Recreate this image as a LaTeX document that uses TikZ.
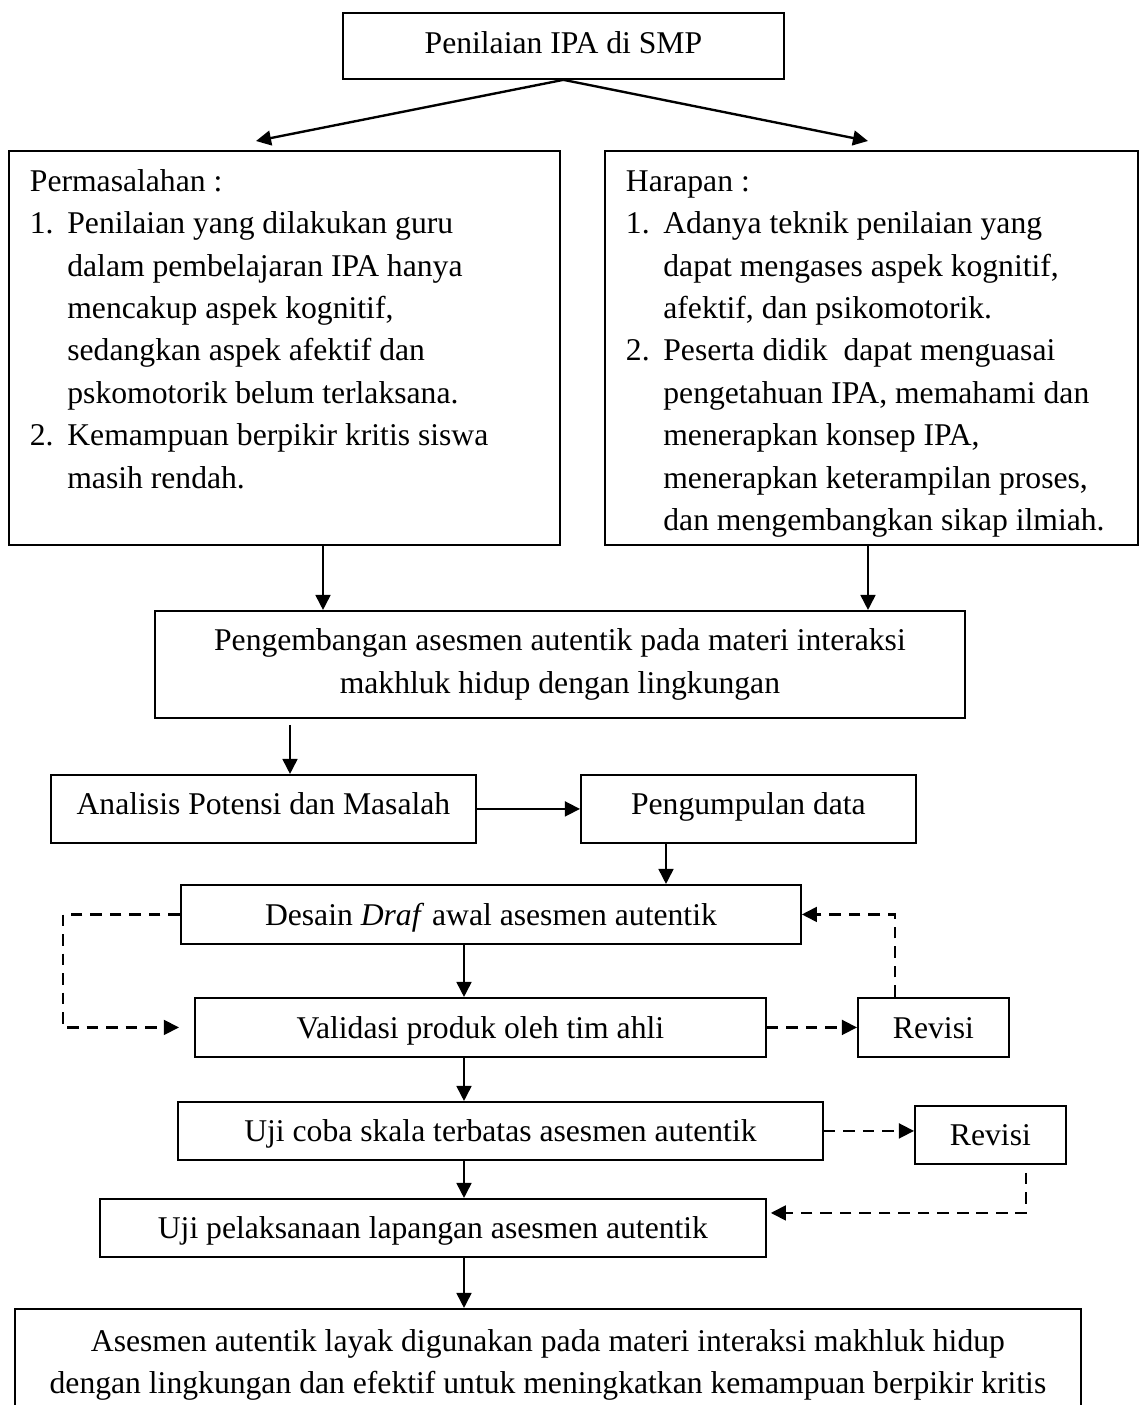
\documentclass[tikz,border=0pt]{standalone}
\usepackage{fontspec}
\setmainfont{Liberation Serif}
\usetikzlibrary{arrows.meta,calc}
\newdimen\pxu
\pxu=0.3792pt

\begin{document}
\begin{tikzpicture}[x=\pxu, y=-\pxu,
  font=\fontsize{12}{16.1}\selectfont,
  kotak/.style={draw, line width=0.7pt, inner sep=0pt, anchor=north west},
  baris/.style={kotak, text height=8.2pt, text depth=#1},
  baris/.default=0pt,
  kotakbesar/.style={kotak, inner ysep=10.3\pxu},
  panah/.style={-{Triangle[length=5.7pt,width=5.6pt]}, line width=0.9pt},
  panahputus/.style={panah, dash pattern=on 4.4pt off 3pt}]

\useasboundingbox (0,0) rectangle (1139,1405);
\clip (0,0) rectangle (1139,1405);

\node[baris=2.2pt, minimum width=441\pxu, minimum height=66\pxu] (ipa) at (342,12) {Penilaian IPA di SMP};

\node[kotakbesar, minimum width=551\pxu, minimum height=394\pxu] (masalah) at (8,150) {\parbox[c][373\pxu][t]{551\pxu}{\leftskip=21\pxu
\strut Permasalahan :\par
\hangindent=14.2pt\hangafter=1 \makebox[14.2pt][l]{1.}Penilaian yang dilakukan guru\\
dalam pembelajaran IPA hanya\\
mencakup aspek kognitif,\\
sedangkan aspek afektif dan\\
pskomotorik belum terlaksana.\par
\hangindent=14.2pt\hangafter=1 \makebox[14.2pt][l]{2.}Kemampuan berpikir kritis siswa\\
masih rendah.}};

\node[kotakbesar, minimum width=533\pxu, minimum height=394\pxu] (harapan) at (604,150) {\parbox[c][373\pxu][t]{533\pxu}{\leftskip=21\pxu
\strut Harapan :\par
\hangindent=14.2pt\hangafter=1 \makebox[14.2pt][l]{1.}Adanya teknik penilaian yang\\
dapat mengases aspek kognitif,\\
afektif, dan psikomotorik.\par
\hangindent=14.2pt\hangafter=1 \makebox[14.2pt][l]{2.}Peserta didik\ \ dapat menguasai\\
pengetahuan IPA, memahami dan\\
menerapkan konsep IPA,\\
menerapkan keterampilan proses,\\
dan mengembangkan sikap ilmiah.}};

\node[kotak, align=center, minimum width=810\pxu, minimum height=107\pxu] (kembang) at (154,610) {Pengembangan asesmen autentik pada materi interaksi\\ makhluk hidup dengan lingkungan};

\node[baris=3.6pt, minimum width=425\pxu, minimum height=68\pxu] (analisis) at (50,774) {Analisis Potensi dan Masalah};
\node[baris=3.6pt, minimum width=335\pxu, minimum height=68\pxu] (kumpul) at (580,774) {Pengumpulan data};
\node[baris, minimum width=620\pxu, minimum height=59\pxu] (desain) at (180,884) {Desain \textit{Draf} awal asesmen autentik};
\node[baris, minimum width=571\pxu, minimum height=59\pxu] (validasi) at (194,997) {Validasi produk oleh tim ahli};
\node[baris, minimum width=151\pxu, minimum height=59\pxu] (revisia) at (857,997) {Revisi};
\node[baris, minimum width=645\pxu, minimum height=58\pxu] (ujicoba) at (177,1101) {Uji coba skala terbatas asesmen autentik};
\node[baris, minimum width=151\pxu, minimum height=58\pxu] (revisib) at (914,1105) {Revisi};
\node[baris, minimum width=666\pxu, minimum height=58\pxu] (lapangan) at (99,1198) {Uji pelaksanaan lapangan asesmen autentik};

\node[kotak, inner ysep=12.3\pxu, minimum width=1066\pxu, minimum height=112\pxu] (akhir) at (14,1308) {\parbox[c][87\pxu][t]{1066\pxu}{\centering
\strut Asesmen autentik layak digunakan pada materi interaksi makhluk hidup\\
dengan lingkungan dan efektif untuk meningkatkan kemampuan berpikir kritis}};

\coordinate (ujungkiri) at (256,141);
\coordinate (ujungkanan) at (868,141);

\draw[panah] (ipa.south) -- (ujungkiri);
\draw[panah] (ipa.south) -- (ujungkanan);
\draw[panah] (masalah.south -| 323,0) -- (kembang.north -| 323,0);
\draw[panah] (harapan.south -| 868,0) -- (kembang.north -| 868,0);
\draw[panah] ($(kembang.south -| 290,0)+(0,6)$) -- (analisis.north -| 290,0);
\draw[panah] (analisis) -- (kumpul);
\draw[panah] (kumpul.south -| 666,0) -- (desain.north -| 666,0);
\draw[panah] (desain.south -| 464,0) -- (validasi.north -| 464,0);
\draw[panah] (validasi.south -| 464,0) -- (ujicoba.north -| 464,0);
\draw[panah] (ujicoba.south -| 464,0) -- (lapangan.north -| 464,0);
\draw[panah] (lapangan.south -| 464,0) -- (akhir.north -| 464,0);

\draw[panahputus, shorten >=5.7pt] (desain.west) -| (63,0 |- validasi.west) -- (validasi.west);
\draw[panahputus] (validasi) -- (revisia);
\draw[panahputus] (revisia.north -| 895,0) |- (desain.east);
\draw[panahputus] (ujicoba.east) -- (ujicoba.east -| revisib.west);
\draw[panahputus, shorten >=1.5pt] ($(revisib.south -| 1026,0)+(0,8)$) |- ($(lapangan.east)+(0,-15)$);
\end{tikzpicture}
\end{document}
